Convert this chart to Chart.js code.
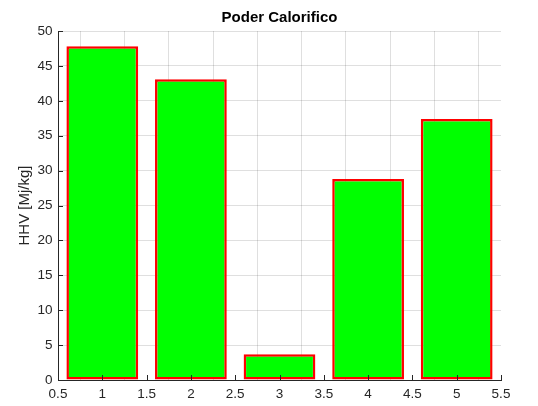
<!DOCTYPE html>
<html lang="es">
<head>
  <meta charset="UTF-8">
  <title>Poder Calorifico</title>
  <script src="https://cdn.jsdelivr.net/npm/chart.js"></script>
  <style>
    body { margin: 0; background: white; }
    #wrap { width: 538px; height: 406px; }
  </style>
</head>
<body>
<div id="wrap"><canvas id="chart"></canvas></div>
<script>
// datos
const positions = [1, 2, 3, 4, 5];
const hhv = [47.8, 43.1, 3.7, 28.8, 37.4];
const xTicks = [0.5, 1, 1.5, 2, 2.5, 3, 3.5, 4, 4.5, 5, 5.5];
const yTicks = [0, 5, 10, 15, 20, 25, 30, 35, 40, 45, 50];

const axisColor = '#262626';
const gridColor = 'rgba(38,38,38,0.15)';
const family = "'Liberation Sans', Arial, sans-serif";
const tickFont = { family: family, size: 13.5 };

// marcas de eje hacia dentro, estilo MATLAB
const innerTicks = {
  id: 'innerTicks',
  afterDraw(chart) {
    const { ctx, chartArea, scales } = chart;
    ctx.save();
    ctx.strokeStyle = axisColor;
    ctx.lineWidth = 1;
    ctx.beginPath();
    xTicks.forEach(v => {
      const px = Math.round(scales.x.getPixelForValue(v)) + 0.5;
      ctx.moveTo(px, chartArea.bottom);
      ctx.lineTo(px, chartArea.bottom - 5);
    });
    yTicks.forEach(v => {
      const py = Math.round(scales.y.getPixelForValue(v)) + 0.5;
      ctx.moveTo(chartArea.left, py);
      ctx.lineTo(chartArea.left + 5, py);
    });
    ctx.stroke();
    ctx.restore();
  }
};

new Chart(document.getElementById('chart'), {
  type: 'bar',
  data: {
    datasets: [{
      data: positions.map((p, i) => ({ x: p, y: hhv[i] })),
      backgroundColor: '#00ff00',
      borderColor: '#ff0000',
      borderWidth: 2.5,
      borderSkipped: false,
      // el espaciado minimo que ve Chart.js es 0.5 (las marcas), asi que 1.62 -> ~0.81 unidades
      barPercentage: 1.62,
      categoryPercentage: 1
    }]
  },
  options: {
    responsive: true,
    maintainAspectRatio: false,
    animation: false,
    layout: { padding: { left: 0, right: 37, top: 0, bottom: 0 } },
    plugins: {
      legend: { display: false },
      tooltip: { enabled: false },
      title: {
        display: true,
        text: 'Poder Calorifico',
        fullSize: false,
        color: '#000',
        font: { family: family, size: 15, weight: 'bold', lineHeight: 1.2 },
        padding: { top: 9, bottom: 4 }
      }
    },
    scales: {
      x: {
        type: 'linear',
        min: 0.5,
        max: 5.5,
        offset: false,
        afterBuildTicks: s => { s.ticks = xTicks.map(v => ({ value: v })); },
        afterFit: s => { s.height = 26; },
        ticks: { color: axisColor, font: tickFont, padding: 6, maxRotation: 0, autoSkip: false,
                 callback: v => String(v) },
        grid: { color: gridColor, drawTicks: false },
        border: { color: axisColor, width: 1 }
      },
      y: {
        min: 0,
        max: 50,
        afterBuildTicks: s => { s.ticks = yTicks.map(v => ({ value: v })); },
        afterFit: s => { s.width = 58; },
        ticks: { color: axisColor, font: tickFont, padding: 5.5 },
        grid: { color: gridColor, drawTicks: false },
        border: { color: axisColor, width: 1 },
        title: {
          display: true,
          text: 'HHV [Mj/kg]',
          color: axisColor,
          font: { family: family, size: 15, lineHeight: 1.2 },
          padding: { top: 16, bottom: 0 }
        }
      }
    }
  },
  plugins: [innerTicks]
});
</script>
</body>
</html>
